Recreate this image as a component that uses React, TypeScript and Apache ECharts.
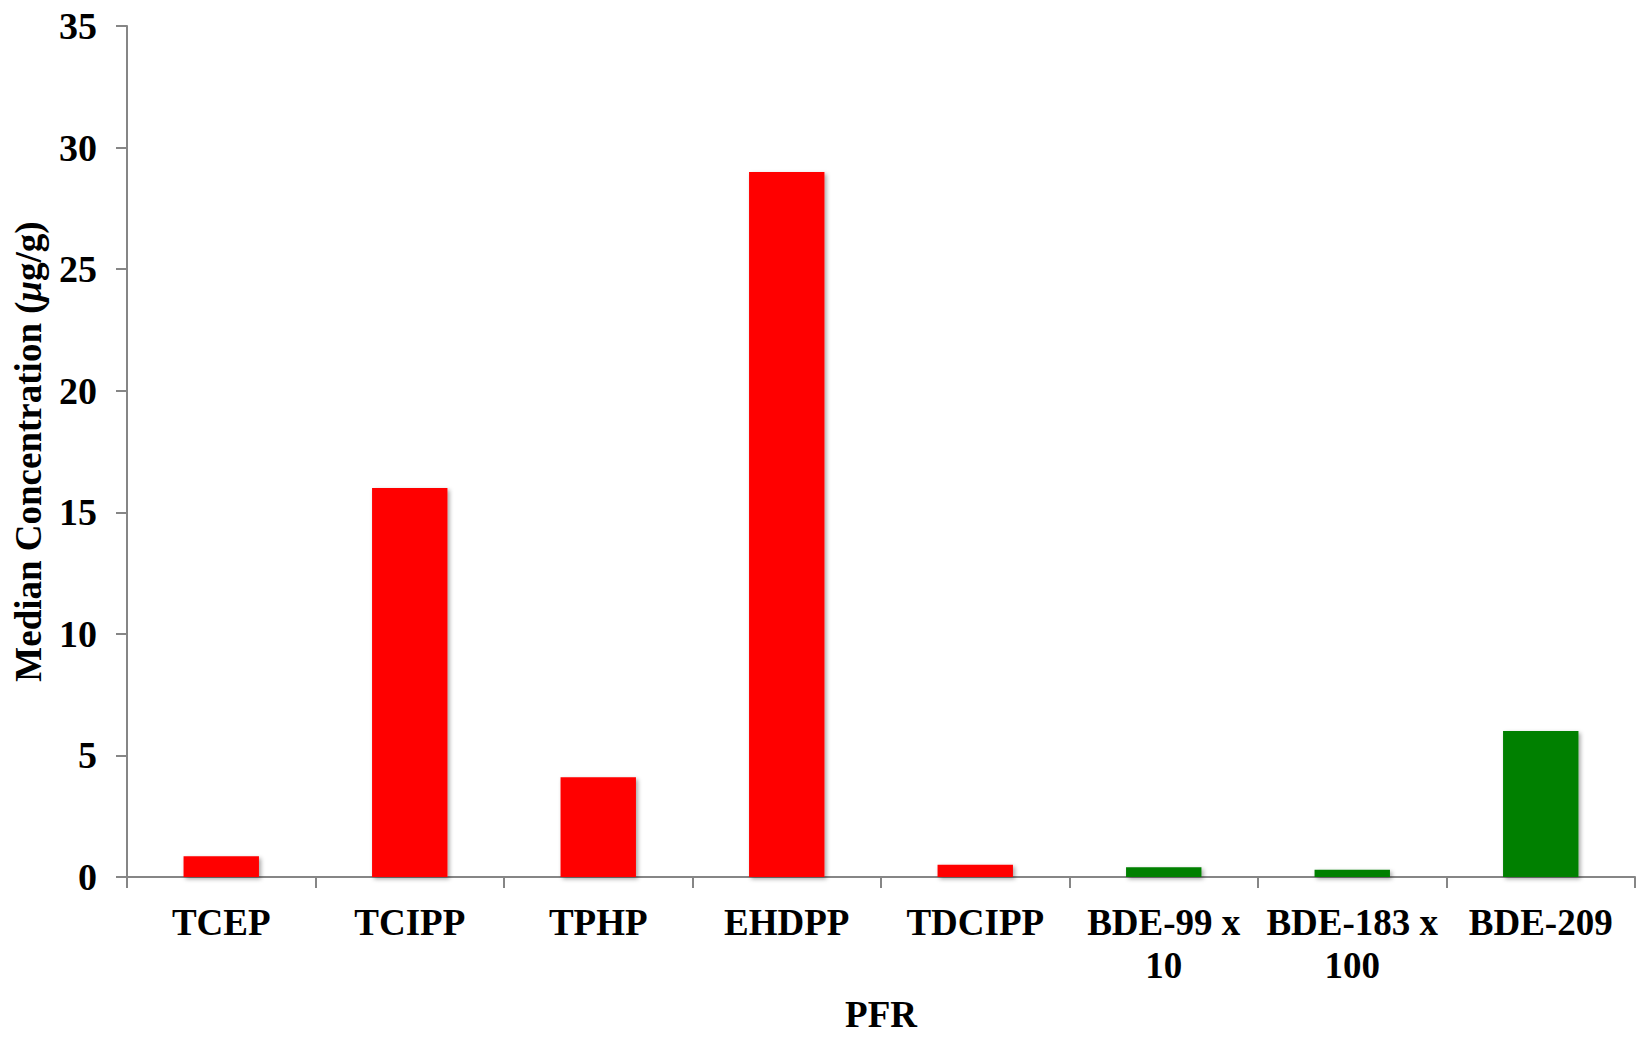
import React, { useEffect, useRef } from "react";
import * as echarts from "echarts";

const categories = ["TCEP", "TCIPP", "TPHP", "EHDPP", "TDCIPP", "BDE-99 x\n10", "BDE-183 x\n100", "BDE-209"];
const values = [0.85, 16.0, 4.1, 29.0, 0.5, 0.4, 0.3, 6.0];
const barColors = ["#FF0000", "#FF0000", "#FF0000", "#FF0000", "#FF0000", "#008000", "#008000", "#008000"];
const yMin = 0;
const yMax = 35;
const yInterval = 5;

const FONT = "'Liberation Serif', 'Times New Roman', serif";

export default function App() {
  const ref = useRef<HTMLDivElement>(null);
  useEffect(() => {
    if (!ref.current) return;
    const chart = echarts.init(ref.current, null, { renderer: "svg" });
    chart.setOption({
      animation: false,
      backgroundColor: "#ffffff",
      grid: { left: 127, right: 3, top: 26, bottom: 121, containLabel: false },
      xAxis: {
        type: "category",
        data: categories,
        name: "PFR",
        nameLocation: "middle",
        nameGap: 119,
        nameTextStyle: { fontFamily: FONT, fontWeight: "bold", fontSize: 37, color: "#000" },
        axisLine: { lineStyle: { color: "#868686", width: 2 } },
        axisTick: { show: true, length: 11, lineStyle: { color: "#868686", width: 2 } },
        axisLabel: {
          interval: 0,
          margin: 24,
          fontFamily: FONT,
          fontWeight: "bold",
          fontSize: 37,
          lineHeight: 43,
          color: "#000",
        },
      },
      yAxis: {
        type: "value",
        min: yMin,
        max: yMax,
        interval: yInterval,
        name: "{b|Median Concentration (}{i|μ}{b|g/g)}",
        nameLocation: "middle",
        nameGap: 80,
        nameRotate: 90,
        nameTextStyle: {
          rich: {
            b: { fontFamily: FONT, fontWeight: "bold", fontSize: 37, color: "#000" },
            i: { fontFamily: FONT, fontWeight: "bold", fontStyle: "italic", fontSize: 37, color: "#000" },
          },
        },
        splitLine: { show: false },
        axisLine: { show: true, lineStyle: { color: "#868686", width: 2 } },
        axisTick: { show: true, length: 11, lineStyle: { color: "#868686", width: 2 } },
        axisLabel: {
          margin: 30,
          fontFamily: FONT,
          fontWeight: "bold",
          fontSize: 38,
          color: "#000",
        },
      },
      series: [
        {
          type: "bar",
          barWidth: "40%",
          data: values.map((v, i) => ({
            value: v,
            itemStyle: {
              color: barColors[i],
              shadowColor: "rgba(0,0,0,0.35)",
              shadowBlur: 4,
              shadowOffsetX: 2,
              shadowOffsetY: 2,
            },
          })),
        },
      ],
    });
    return () => chart.dispose();
  }, []);
  return (
    <div
      ref={ref}
      style={{ position: "fixed", left: 0, top: 0, width: 1638, height: 1038, background: "#fff" }}
    />
  );
}
